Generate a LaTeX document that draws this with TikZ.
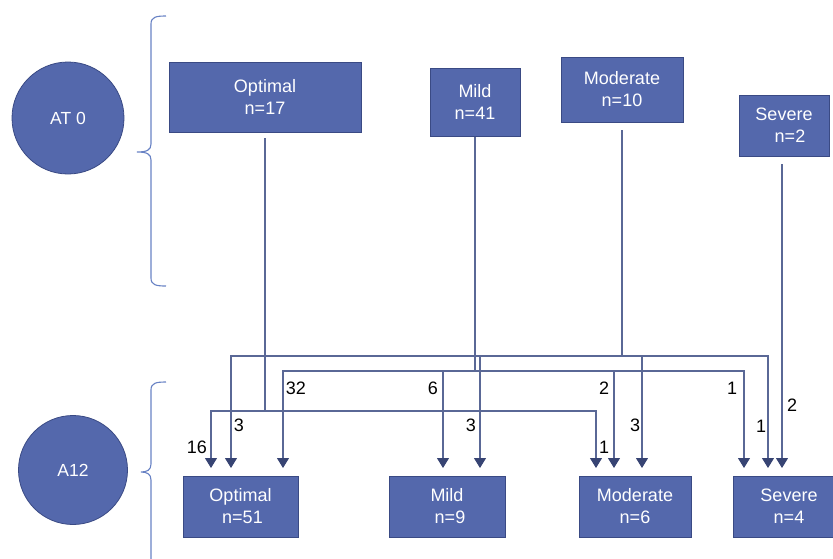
\documentclass[tikz,border=0pt]{standalone}
\usepackage{fontspec}
\setmainfont{Liberation Sans}
\usetikzlibrary{arrows.meta}
\definecolor{boxfill}{RGB}{84,104,172}
\definecolor{boxline}{RGB}{58,74,132}
\definecolor{connc}{RGB}{90,104,150}
\definecolor{arrc}{RGB}{55,68,115}
\definecolor{bracec}{RGB}{104,130,196}
\tikzset{
  box/.style={draw=boxline, line width=0.8pt, fill=boxfill, text=white, align=center,
    inner sep=0pt, font=\fontsize{18}{22}\selectfont},
  circ/.style={circle, draw=boxline, line width=0.8pt, fill=boxfill, text=white,
    inner sep=0pt, font=\fontsize{17.5}{22}\selectfont},
  conn/.style={draw=connc, line width=1.1pt},
  arr/.style={conn, -{Triangle[width=12pt,length=10pt,color=arrc]}},
  lab/.style={inner sep=0pt, font=\fontsize{18}{20}\selectfont, text=black},
  bracestyle/.style={draw=bracec, line width=1.1pt},
}
\begin{document}
\begin{tikzpicture}[x=1pt,y=-1pt]
\useasboundingbox (0,0) rectangle (833,558);
\clip (0,0) rectangle (833,558);
% circles
\node[circ, minimum size=112pt] (at0) at (68,118) {AT 0};
\node[circ, minimum size=109pt] (a12) at (73,470) {A12};
% braces
\draw[bracestyle] (166,16) .. controls (156,16) and (151,17) .. (151,24) -- (151,144)
  .. controls (151,150) and (147,152) .. (137,152)
  .. controls (147,152) and (151,154) .. (151,160) -- (151,278)
  .. controls (151,285) and (156,286) .. (166,286);
\draw[bracestyle] (166,382) .. controls (156,382) and (151,383) .. (151,390) -- (151,464)
  .. controls (151,470) and (147,472) .. (141,472)
  .. controls (147,472) and (151,474) .. (151,480) -- (151,570);
% top boxes
\node[box, minimum width=192pt, minimum height=70pt] (tOpt) at (265,97) {Optimal\\n=17};
\node[box, minimum width=90pt, minimum height=68pt] (tMild) at (475,102) {Mild\\n=41};
\node[box, minimum width=122pt, minimum height=65pt] (tMod) at (622,89.5) {Moderate\\n=10};
\node[box, minimum width=90pt, minimum height=61pt] (tSev) at (784,125.5) {Severe\\\hspace*{12pt}n=2};
% bottom boxes
\node[box, minimum width=115pt, minimum height=61pt] (bOpt) at (240.5,506.5) {Optimal\\\hspace*{4pt}n=51};
\node[box, minimum width=116pt, minimum height=61pt] (bMild) at (447,506.5) {Mild\\\hspace*{6pt}n=9};
\node[box, minimum width=112pt, minimum height=61pt] (bMod) at (635,506.5) {Moderate\\n=6};
\node[box, minimum width=112pt, minimum height=61pt] (bSev) at (789,506.5) {Severe\\n=4};
% start / junction coordinates
\coordinate (oS) at (265,138); \coordinate (oJ) at (265,411);
\coordinate (mS) at (475,137); \coordinate (mJ) at (475,371);
\coordinate (dS) at (622,130); \coordinate (dJ) at (622,356);
\coordinate (sS) at (782,164);
% trunks
\draw[conn] (oS) -- (oJ);
\draw[conn] (mS) -- (mJ);
\draw[conn] (dS) -- (dJ);
% Optimal at 0
\draw[arr] (oJ) -| (211,468);
\draw[arr] (oJ) -| (596,468);
% Mild at 0
\draw[arr] (mJ) -| (283,468);
\draw[arr] (mJ) -| (443,468);
\draw[arr] (mJ) -| (614,468);
\draw[arr] (mJ) -| (744,468);
% Moderate at 0
\draw[arr] (dJ) -| (231,468);
\draw[arr] (dJ) -| (480,468);
\draw[arr] (dJ) -| (642,468);
\draw[arr] (dJ) -| (768,468);
% Severe at 0
\draw[arr] (sS) -- (782,468);
% labels
\node[lab] (l16) at (197,447) {16};
\node[lab] (l3a) at (239,425) {3};
\node[lab] (l32) at (296,388) {32};
\node[lab] (l6) at (433,388) {6};
\node[lab] (l3b) at (471,425) {3};
\node[lab] (l2a) at (604,388) {2};
\node[lab] (l3c) at (635,425) {3};
\node[lab] (l1a) at (604,447) {1};
\node[lab] (l1b) at (732,388) {1};
\node[lab] (l1c) at (761,426) {1};
\node[lab] (l2b) at (792,405) {2};
\end{tikzpicture}
\end{document}
